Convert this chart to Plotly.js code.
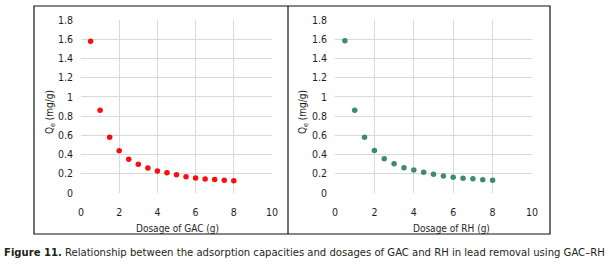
<!DOCTYPE html>
<html>
<head>
<meta charset="utf-8">
<script src="https://cdn.plot.ly/plotly-3.0.1.min.js"></script>
<style>html,body{margin:0;padding:0;background:#fff;}#chart{width:610px;height:266px;}</style>
</head>
<body>
<div id="chart"></div>
<script>
// Data
const dosage = [0.5, 1, 1.5, 2, 2.5, 3, 3.5, 4, 4.5, 5, 5.5, 6, 6.5, 7, 7.5, 8];
const qeGAC = [1.58, 0.86, 0.58, 0.44, 0.35, 0.30, 0.26, 0.23, 0.21, 0.19, 0.17, 0.157, 0.146, 0.14, 0.132, 0.128];
const qeRH  = [1.585, 0.86, 0.58, 0.443, 0.356, 0.305, 0.263, 0.239, 0.215, 0.194, 0.177, 0.163, 0.153, 0.149, 0.138, 0.132];
const xTicks = [0, 2, 4, 6, 8, 10];
const yTicks = [0, 0.2, 0.4, 0.6, 0.8, 1, 1.2, 1.4, 1.6, 1.8];
const xTitles = ["Dosage of GAC (g)", "Dosage of RH (g)"];
const yTitle = "Q<sub>e</sub> (mg/g)";
const caption = "<b>Figure 11.</b> Relationship between the adsorption capacities and dosages of GAC and RH in lead removal using GAC–RH";

const W = 610, H = 266;
const px = v => v / W;
const py = v => 1 - v / H;

const FONT = "DejaVu Sans Condensed, Liberation Sans Narrow, sans-serif";
const tickFont = {family: FONT, size: 10.5, color: "#1e1e1e"};

const traces = [
  {x: dosage, y: qeGAC, type: "scatter", mode: "markers", xaxis: "x", yaxis: "y",
   marker: {color: "#f50f0f", size: 5.5}},
  {x: dosage, y: qeRH, type: "scatter", mode: "markers", xaxis: "x2", yaxis: "y2",
   marker: {color: "#3f8a6f", size: 5.5}}
];

function xa(dom) {
  return {domain: dom, range: [0, 10], tickvals: xTicks, ticktext: xTicks.map(String),
    showgrid: true, gridcolor: "#d9d9d9", gridwidth: 1, zeroline: false, showline: false,
    ticks: "", tickfont: tickFont, ticklabelstandoff: 11, fixedrange: true};
}
function ya(dom, anchor) {
  return {domain: dom, range: [0, 1.8], tickvals: yTicks, ticktext: yTicks.map(String),
    showgrid: true, gridcolor: "#d9d9d9", gridwidth: 1, zeroline: false, showline: false,
    ticks: "", tickfont: tickFont, ticklabelstandoff: 7, anchor: anchor, fixedrange: true};
}

const yDom = [py(193), py(20)];
const layout = {
  width: W, height: H,
  margin: {l: 0, r: 0, t: 0, b: 0},
  paper_bgcolor: "#fff", plot_bgcolor: "#fff",
  showlegend: false,
  xaxis: Object.assign(xa([px(81), px(272)]), {anchor: "y"}),
  yaxis: ya(yDom, "x"),
  xaxis2: Object.assign(xa([px(335), px(532)]), {anchor: "y2"}),
  yaxis2: ya(yDom, "x2"),
  shapes: [
    {type: "rect", xref: "paper", yref: "paper", x0: px(34), x1: px(550), y0: py(234), y1: py(6),
     line: {color: "#111", width: 1.2}},
    {type: "line", xref: "paper", yref: "paper", x0: px(288), x1: px(288), y0: py(234), y1: py(6),
     line: {color: "#111", width: 1.2}}
  ],
  annotations: [
    {text: yTitle, xref: "paper", yref: "paper", x: px(50), y: py(112), textangle: -90,
     showarrow: false, font: {family: FONT, size: 10, color: "#1e1e1e"}, xanchor: "center", yanchor: "middle"},
    {text: yTitle, xref: "paper", yref: "paper", x: px(303), y: py(112), textangle: -90,
     showarrow: false, font: {family: FONT, size: 10, color: "#1e1e1e"}, xanchor: "center", yanchor: "middle"},
    {text: xTitles[0], xref: "paper", yref: "paper", x: px(177), y: py(228),
     showarrow: false, font: {family: FONT, size: 10, color: "#1e1e1e"}, xanchor: "center", yanchor: "middle"},
    {text: xTitles[1], xref: "paper", yref: "paper", x: px(451), y: py(228),
     showarrow: false, font: {family: FONT, size: 10, color: "#1e1e1e"}, xanchor: "center", yanchor: "middle"},
    {text: caption, xref: "paper", yref: "paper", x: px(2), y: py(252),
     showarrow: false, font: {family: FONT, size: 11.2, color: "#231f20"}, xanchor: "left", yanchor: "middle"}
  ]
};

Plotly.newPlot("chart", traces, layout, {staticPlot: true, displayModeBar: false});
</script>
</body>
</html>
